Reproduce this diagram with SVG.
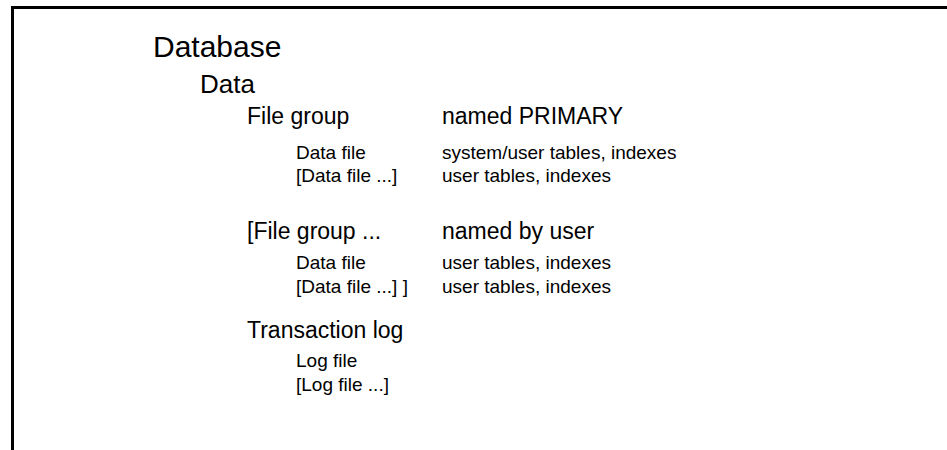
<svg xmlns="http://www.w3.org/2000/svg" width="947" height="450" viewBox="0 0 947 450">
<style>
text{font-family:"Liberation Sans",Arial,sans-serif;fill:#000}
.h0{font-size:30px}
.h1{font-size:26px}
.h2{font-size:23px}
.h3{font-size:19px}
.frame{fill:none;stroke:#000;stroke-width:3}
</style>
<rect width="947" height="450" fill="#fff"/>
<path class="frame" d="M12.5,450 V7.5 H947"/>
<g id="database"><text class="h0" x="153" y="57">Database</text></g>
<g id="data"><text class="h1" x="200" y="93">Data</text></g>
<g id="filegroup-primary">
<text class="h2" x="247" y="124">File group</text>
<text class="h2" x="442" y="124">named PRIMARY</text>
<text class="h3" x="296" y="159">Data file</text>
<text class="h3" x="442" y="159">system/user tables, indexes</text>
<text class="h3" x="296" y="182">[Data file ...]</text>
<text class="h3" x="442" y="182">user tables, indexes</text>
</g>
<g id="filegroup-user">
<text class="h2" x="247" y="239">[File group ...</text>
<text class="h2" x="442" y="239">named by user</text>
<text class="h3" x="296" y="269">Data file</text>
<text class="h3" x="442" y="269">user tables, indexes</text>
<text class="h3" x="296" y="293">[Data file ...] ]</text>
<text class="h3" x="442" y="293">user tables, indexes</text>
</g>
<g id="transaction-log">
<text class="h2" x="247" y="338">Transaction log</text>
<text class="h3" x="296" y="367">Log file</text>
<text class="h3" x="296" y="391">[Log file ...]</text>
</g>
<g id="connectors"></g>
</svg>
